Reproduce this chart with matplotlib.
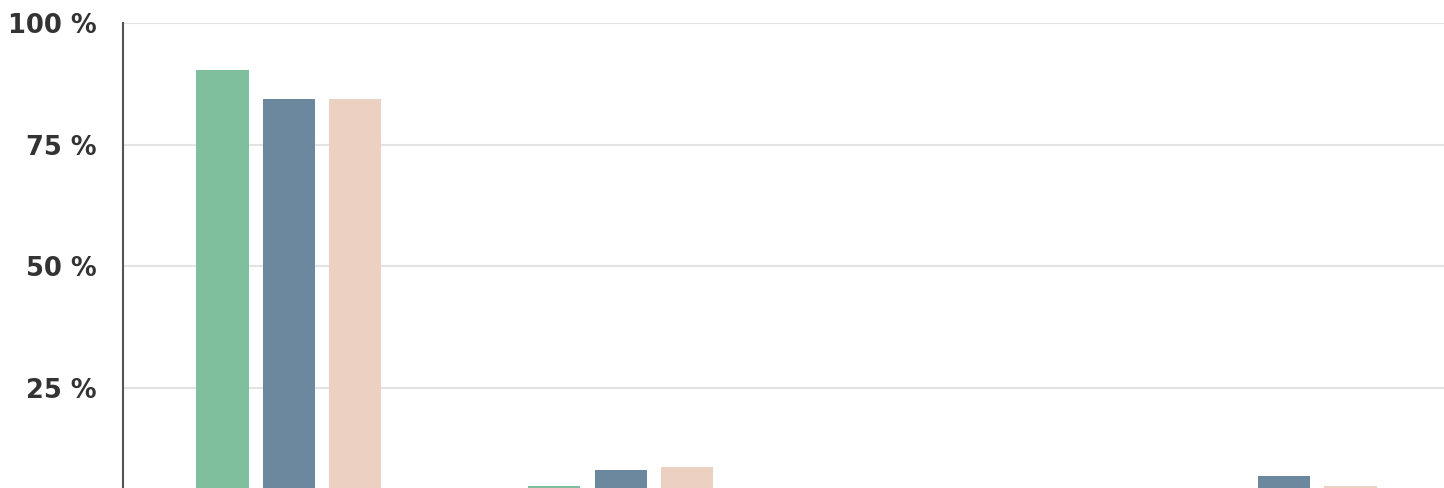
import numpy as np
import matplotlib.pyplot as plt

# four groups, three series (percent)
groups = ["G1", "G2", "G3", "G4"]
series_a = [90.3, 4.8, 2.0, 2.0]   # green
series_b = [84.3, 8.0, 1.5, 6.9]   # blue
series_c = [84.3, 8.7, 1.0, 4.8]   # pink
colors = ["#7fbf9d", "#6c889e", "#ecd0c2"]
yticks = [25, 50, 75, 100]

fig = plt.figure(figsize=(14.44, 4.88), dpi=100)
# axes run slightly past the bottom/right edge, as in the cropped original
ax = fig.add_axes([123 / 1444, -21.3 / 488, 1327 / 1444, 486.3 / 488])

x = np.arange(len(groups))
w = 0.157
off = 0.2
for i, (vals, c) in enumerate(zip([series_a, series_b, series_c], colors)):
    ax.bar(x + (i - 1) * off, vals, width=w, color=c, zorder=3)

ax.set_xlim(-0.5, len(groups) - 0.5)
ax.set_ylim(0, 100)
ax.set_yticks(yticks)
ax.set_yticklabels([f"{v} %" for v in yticks], fontweight="semibold")
ax.set_xticks([])
ax.tick_params(axis="y", length=0, pad=19, labelsize=18.5, labelcolor="#333333")
ax.grid(axis="y", color="#e3e3e3", linewidth=1.5, zorder=0)

for s in ["top", "right", "bottom"]:
    ax.spines[s].set_visible(False)
ax.spines["left"].set_color("#555555")
ax.spines["left"].set_linewidth(1.5)

fig.savefig("out.png", dpi=100)
